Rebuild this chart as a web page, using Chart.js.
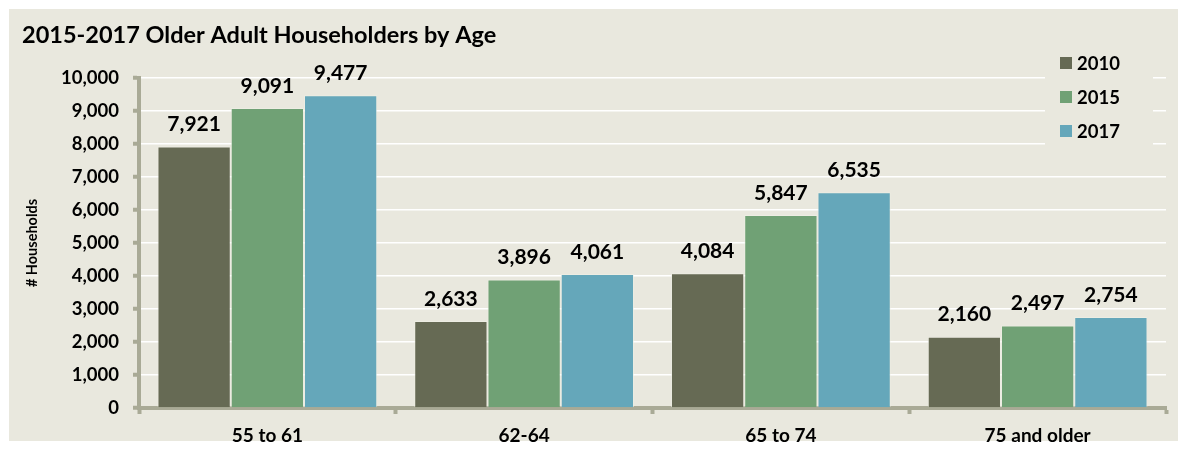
<!DOCTYPE html>
<html>
<head>
<meta charset="utf-8">
<script src="https://cdn.jsdelivr.net/npm/chart.js@4/dist/chart.umd.min.js"></script>
<style>
  html, body { margin: 0; padding: 0; background: #fff; }
  #wrap { width: 1187px; height: 450px; position: relative; }
</style>
</head>
<body>
<div id="wrap"><canvas id="chart" width="1187" height="450"></canvas></div>
<script>
const categories = ['55 to 61', '62-64', '65 to 74', '75 and older'];
const seriesNames = ['2010', '2015', '2017'];
const values2010 = [7921, 2633, 4084, 2160];
const values2015 = [9091, 3896, 5847, 2497];
const values2017 = [9477, 4061, 6535, 2754];
const colors = ['#666A54', '#70A175', '#65A7BA'];

const BG = '#E9E8DE';
const AXIS = '#A9AA96';
const FONT = 'Lato, "Open Sans", sans-serif';

const fmt = (v) => v.toLocaleString('en-US');

// panel background + title
const panel = {
  id: 'panel',
  beforeDraw(chart) {
    const ctx = chart.ctx;
    ctx.save();
    ctx.fillStyle = BG;
    ctx.fillRect(9, 9, 1169, 432);
    ctx.fillStyle = '#000';
    ctx.font = `bold 23.5px ${FONT}`;
    ctx.textBaseline = 'alphabetic';
    ctx.fillText('2015-2017 Older Adult Householders by Age', 22, 43);
    ctx.restore();
  },
};

// value labels above bars, and legend box on the right
const labels = {
  id: 'labels',
  afterDatasetsDraw(chart) {
    const ctx = chart.ctx;
    ctx.save();
    ctx.font = `bold 21px ${FONT}`;
    ctx.fillStyle = '#000';
    ctx.textAlign = 'center';
    ctx.textBaseline = 'middle';
    chart.data.datasets.forEach((ds, i) => {
      chart.getDatasetMeta(i).data.forEach((bar, j) => {
        ctx.fillText(fmt(ds.data[j]), bar.x, bar.y - 22);
      });
    });

    // legend
    ctx.fillStyle = BG;
    ctx.fillRect(1045, 46, 108, 102);
    ctx.font = `bold 18.5px ${FONT}`;
    ctx.textAlign = 'left';
    seriesNames.forEach((name, i) => {
      const cy = 63 + i * 34;
      ctx.fillStyle = colors[i];
      ctx.fillRect(1060, cy - 6, 12, 12);
      ctx.fillStyle = '#000';
      ctx.fillText(name, 1077, cy + 1);
    });
    ctx.restore();
  },
};

new Chart(document.getElementById('chart'), {
  type: 'bar',
  data: {
    labels: categories,
    datasets: [values2010, values2015, values2017].map((d, i) => ({
      label: seriesNames[i],
      data: d,
      backgroundColor: colors[i],
      borderColor: 'rgba(240,240,230,0.6)',
      borderWidth: 1,
      barPercentage: 1,
      categoryPercentage: 0.856,
    })),
  },
  options: {
    responsive: false,
    animation: false,
    layout: { padding: { top: 78, left: 9, right: 21, bottom: 0 } },
    plugins: {
      legend: { display: false },
      title: { display: false },
      tooltip: { enabled: false },
    },
    scales: {
      x: {
        grid: { drawOnChartArea: false, tickLength: 6, tickColor: AXIS, tickWidth: 4 },
        border: { color: AXIS, width: 4 },
        ticks: { color: '#000', font: { family: FONT, weight: 'bold', size: 19 }, padding: 10 },
        afterFit(scale) { scale.height = 42; },
      },
      y: {
        min: 0,
        max: 10000,
        ticks: {
          stepSize: 1000,
          color: '#000',
          font: { family: FONT, weight: 'bold', size: 18.5 },
          padding: 14,
          callback: (v) => fmt(v),
        },
        grid: { color: '#FFFFFF', lineWidth: 1.5, tickLength: 6, tickColor: AXIS, tickWidth: 4 },
        border: { color: AXIS, width: 4 },
        title: {
          display: true,
          text: '# Households',
          color: '#000',
          font: { family: FONT, weight: 'bold', size: 14.5 },
          padding: { top: 15, bottom: 0 },
        },
        afterFit(scale) { scale.width = 130; },
      },
    },
  },
  plugins: [panel, labels],
});
</script>
</body>
</html>
